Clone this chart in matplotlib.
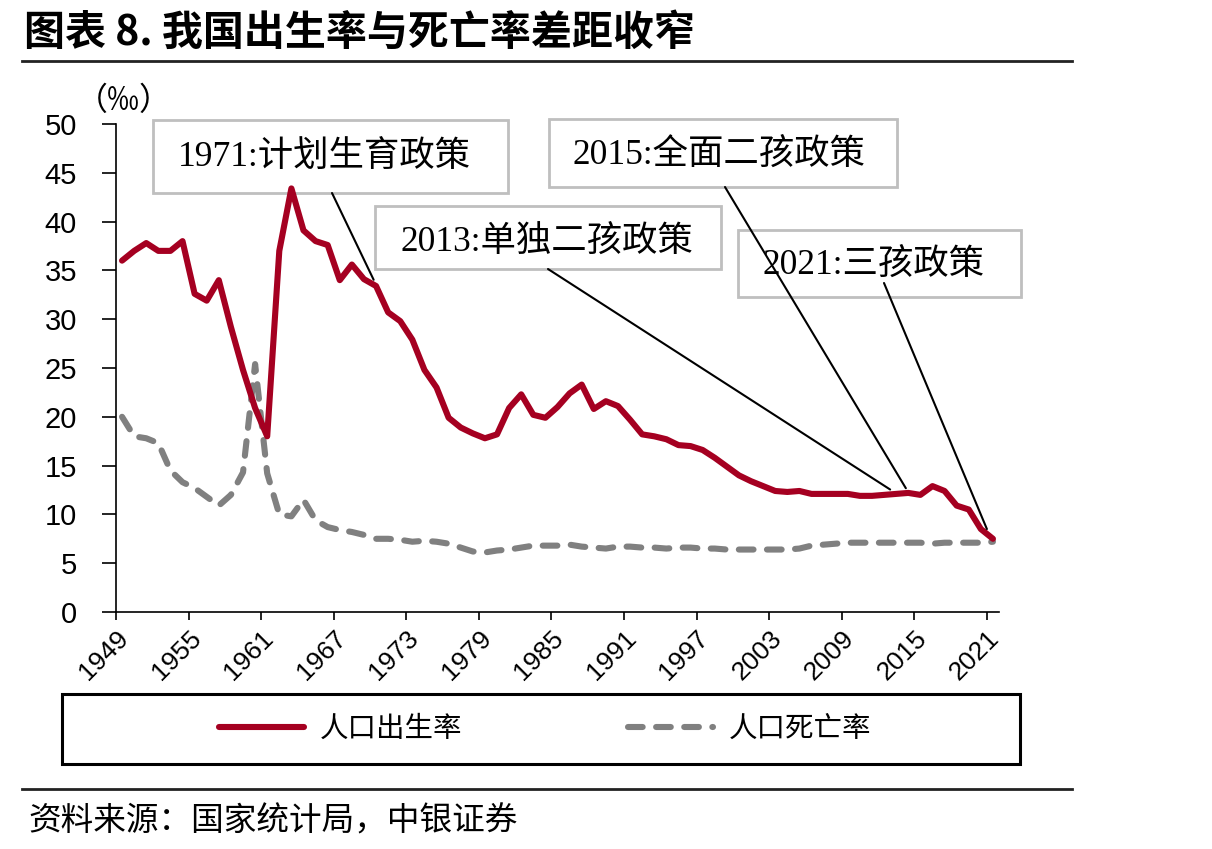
import numpy as np
import matplotlib
matplotlib.use("Agg")
import matplotlib.pyplot as plt
from matplotlib.patches import Rectangle, ConnectionPatch
from matplotlib.lines import Line2D

plt.rcParams['font.family'] = ['Liberation Sans', 'Noto Sans CJK SC', 'DejaVu Sans']

years = list(range(1949, 2022))
birth_rate = [36.0, 37.0, 37.8, 37.0, 37.0, 38.0, 32.6, 31.9, 34.0, 29.2,
              24.8, 20.9, 18.0, 37.0, 43.4, 39.1, 38.0, 37.6, 34.0, 35.6,
              34.1, 33.4, 30.7, 29.8, 27.9, 24.8, 23.0, 19.9, 18.9, 18.3,
              17.8, 18.2, 20.9, 22.3, 20.2, 19.9, 21.0, 22.4, 23.3, 20.8,
              21.6, 21.1, 19.7, 18.2, 18.0, 17.7, 17.1, 17.0, 16.6, 15.8,
              14.9, 14.0, 13.4, 12.9, 12.4, 12.3, 12.4, 12.1, 12.1, 12.1,
              12.1, 11.9, 11.9, 12.0, 12.1, 12.2, 12.0, 12.9, 12.4, 10.9,
              10.5, 8.5, 7.5]
death_rate = [20.0, 18.0, 17.8, 17.3, 14.5, 13.3, 12.7, 11.8, 10.9, 12.0,
              14.3, 25.4, 14.2, 10.0, 9.8, 11.5, 9.4, 8.7, 8.4, 8.2,
              7.9, 7.5, 7.5, 7.4, 7.2, 7.3, 7.2, 7.0, 6.6, 6.2,
              6.1, 6.3, 6.4, 6.6, 6.8, 6.8, 6.8, 6.9, 6.7, 6.6,
              6.5, 6.7, 6.7, 6.6, 6.6, 6.5, 6.6, 6.6, 6.5, 6.5,
              6.4, 6.4, 6.4, 6.4, 6.4, 6.4, 6.5, 6.8, 6.9, 7.0,
              7.1, 7.1, 7.1, 7.1, 7.1, 7.1, 7.1, 7.0, 7.1, 7.1,
              7.1, 7.1, 7.2]
tick_years = list(range(1949, 2022, 6))
tick_labels = [str(y) for y in tick_years]
y_ticks = list(range(0, 51, 5))

series_names = ["人口出生率", "人口死亡率"]
annot_texts = ["1971:计划生育政策", "2013:单独二孩政策", "2015:全面二孩政策", "2021:三孩政策"]
annot_end_x = [1970.3, 2013.0, 2014.3, 2021.0]

W, H = 1212, 849
fig = plt.figure(figsize=(W / 100, H / 100), dpi=100)

def fx(px):
    return px / W

def fy(py):
    return 1 - py / H

ax = fig.add_axes([fx(116), fy(612), fx(999) - fx(116), fy(124) - fy(612)])
ax.patch.set_visible(False)

xs = np.array(years) + 0.5
red = "#A50021"
gray = "#808080"
l1, = ax.plot(xs, birth_rate, color=red, lw=4.4, solid_capstyle='round',
              solid_joinstyle='round', zorder=3)
l2, = ax.plot(xs, death_rate, color=gray, lw=4.4, dashes=(2.4, 2.2),
              dash_capstyle='round', dash_joinstyle='round', zorder=2)

narrow = ['Liberation Sans Narrow', 'Liberation Sans']
ax.set_xlim(1949, 2022)
ax.set_ylim(0, 50)
ax.set_xticks(tick_years)
ax.set_xticklabels(tick_labels, rotation=45, ha='right', va='top',
                   rotation_mode='anchor', family=narrow, fontsize=19)
ax.set_yticks(y_ticks)
ax.set_yticklabels([str(v) for v in y_ticks], family=narrow, fontsize=21)
ax.tick_params(axis='y', direction='out', length=10, width=1.2, pad=18)
ax.tick_params(axis='x', direction='out', length=6, width=1.2, pad=4)
for s in ['top', 'right']:
    ax.spines[s].set_visible(False)
for s in ['left', 'bottom']:
    ax.spines[s].set_linewidth(1.2)

# y unit label
fig.text(fx(76), fy(101), "（‰）", fontsize=23, ha='left', va='center',
         family=['Noto Sans CJK SC', 'DejaVu Sans'])

# annotation boxes
boxes = [(153, 120, 508, 193), (375, 206, 721, 269), (549, 119, 897, 187), (738, 230, 1021, 297)]
text_pos = [(178, 157), (400, 242), (573, 155), (763, 265)]
line_start = [(332, 193), (548, 269), (725, 187), (884, 283)]
annot_font = ['Liberation Serif', 'Noto Sans CJK SC']
for (x0, y0, x1, y1), (tx, ty), (sx, sy), txt, ex in zip(boxes, text_pos, line_start,
                                                         annot_texts, annot_end_x):
    r = Rectangle((fx(x0), fy(y1)), fx(x1) - fx(x0), fy(y0) - fy(y1),
                  transform=fig.transFigure, facecolor='white', edgecolor='#BFBFBF',
                  lw=2, zorder=-2)
    fig.add_artist(r)
    fig.text(fx(tx), fy(ty), txt, fontsize=25.5, ha='left', va='center',
             family=annot_font, zorder=-1)
    ey = float(np.interp(ex, xs, birth_rate)) + 0.5
    cp = ConnectionPatch(xyA=(fx(sx), fy(sy)), coordsA='figure fraction',
                         xyB=(ex, ey), coordsB=ax.transData, color='black', lw=1.5, zorder=5)
    fig.add_artist(cp)

# title
fig.text(fx(24), fy(33), "图表 8. 我国出生率与死亡率差距收窄", fontsize=29.5, fontweight='bold',
         ha='left', va='center', family=['Noto Sans CJK SC', 'DejaVu Sans'])
fig.add_artist(Line2D([fx(22), fx(1072)], [fy(61), fy(61)], transform=fig.transFigure,
                      color='#222222', lw=2))

# legend
fig.add_artist(Rectangle((fx(62), fy(764)), fx(1020) - fx(62), fy(694) - fy(764),
                         transform=fig.transFigure, facecolor='none', edgecolor='black', lw=2.2))
leg = fig.legend([l1, l2], series_names, loc='center', bbox_to_anchor=(fx(545), fy(729)),
                 ncol=2, frameon=False, handlelength=3.0, handletextpad=0.55,
                 columnspacing=5.8, prop={'family': ['Noto Sans CJK SC'], 'size': 20.5})

# source
fig.add_artist(Line2D([fx(22), fx(1072)], [fy(789), fy(789)], transform=fig.transFigure,
                      color='#222222', lw=2))
fig.text(fx(28), fy(821), "资料来源：国家统计局，中银证券", fontsize=23.5, style='italic',
         ha='left', va='center', family=['Noto Sans CJK SC', 'DejaVu Sans'])

fig.savefig("out.png", dpi=100)
